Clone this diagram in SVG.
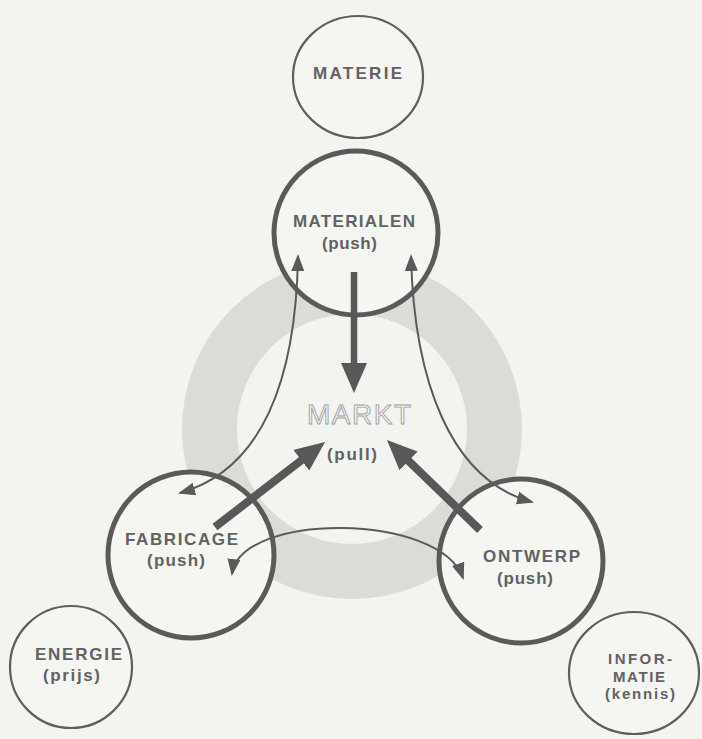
<svg xmlns="http://www.w3.org/2000/svg" width="702" height="739" viewBox="0 0 702 739">
<style>
.bg{fill:#f3f3f0}
.thick{fill:#f5f5f2;stroke:#5a5a5a;stroke-width:5}
.thin{fill:#f5f5f2;stroke:#5e5e5e;stroke-width:2.2}
.lbl{font-family:"Liberation Sans",Arial,sans-serif;font-weight:bold;font-size:17px;fill:#626262;text-anchor:middle}
.lbs{font-family:"Liberation Sans",Arial,sans-serif;font-weight:bold;font-size:15px;fill:#626262;text-anchor:middle}
.markt{font-family:"Liberation Sans",Arial,sans-serif;font-size:28px;fill:#f6f6f4;stroke:#a0a0a0;stroke-width:0.9;text-anchor:middle}
.big{fill:none;stroke:#585858;stroke-width:8}
.sm{fill:none;stroke:#5a5a5a;stroke-width:2}
</style>
<defs>
<marker id="bighead" markerUnits="userSpaceOnUse" markerWidth="30" markerHeight="26" refX="2" refY="13" orient="auto">
<path d="M0,0 L30,13 L0,26 z" fill="#585858"/>
</marker>
<marker id="smhead" markerUnits="userSpaceOnUse" markerWidth="17" markerHeight="13" refX="15" refY="6.5" orient="auto-start-reverse">
<path d="M0,0 L17,6.5 L0,13 z" fill="#5a5a5a"/>
</marker>
</defs>
<rect class="bg" x="0" y="0" width="702" height="739"/>
<g id="ring">
<circle cx="352" cy="429" r="142.5" fill="none" stroke="#dbdbd8" stroke-width="55"/>
</g>
<g id="materie">
<ellipse class="thin" cx="358" cy="77" rx="65" ry="61"/>
<text class="lbl" x="357.5" y="79" textLength="89" lengthAdjust="spacing">MATERIE</text>
</g>
<g id="materialen">
<circle class="thick" cx="356" cy="233" r="82"/>
<text class="lbl" x="354" y="227" textLength="122" lengthAdjust="spacing">MATERIALEN</text>
<text class="lbl" x="349.5" y="249" textLength="55" lengthAdjust="spacing">(push)</text>
</g>
<g id="markt">
<text class="markt" x="359" y="424" textLength="104" lengthAdjust="spacing">MARKT</text>
<text class="lbl" x="352" y="460" textLength="50" lengthAdjust="spacing">(pull)</text>
</g>
<g id="fabricage">
<circle class="thick" cx="191" cy="555" r="83"/>
<text class="lbl" x="181.5" y="545" textLength="113" lengthAdjust="spacing">FABRICAGE</text>
<text class="lbl" x="176" y="566" textLength="58" lengthAdjust="spacing">(push)</text>
</g>
<g id="ontwerp">
<circle class="thick" cx="521" cy="561" r="82"/>
<text class="lbl" x="531.5" y="562" textLength="97" lengthAdjust="spacing">ONTWERP</text>
<text class="lbl" x="525" y="584" textLength="56" lengthAdjust="spacing">(push)</text>
</g>
<g id="energie">
<circle class="thin" cx="71" cy="667" r="61"/>
<text class="lbl" x="78.5" y="660" textLength="87" lengthAdjust="spacing">ENERGIE</text>
<text class="lbl" x="71.5" y="681" textLength="57" lengthAdjust="spacing">(prijs)</text>
</g>
<g id="informatie">
<ellipse class="thin" cx="634" cy="673" rx="65" ry="61"/>
<text class="lbs" x="640" y="664" textLength="64" lengthAdjust="spacing">INFOR-</text>
<text class="lbs" x="639" y="681.5" textLength="52" lengthAdjust="spacing">MATIE</text>
<text class="lbs" x="640" y="699" textLength="70" lengthAdjust="spacing">(kennis)</text>
</g>
<g id="connectors">
<line class="big" style="stroke-width:6.5" x1="354" y1="272" x2="354" y2="365" marker-end="url(#bighead)"/>
<line class="big" x1="215" y1="527" x2="302.9" y2="459.1" marker-end="url(#bighead)"/>
<line class="big" x1="480" y1="530" x2="407.1" y2="459.5" marker-end="url(#bighead)"/>
<path class="sm" d="M298,256 C296,380 262,470 180,493" marker-start="url(#smhead)" marker-end="url(#smhead)"/>
<path class="sm" d="M411,256 C414,380 450,480 532,502" marker-start="url(#smhead)" marker-end="url(#smhead)"/>
<path class="sm" d="M232,574 C240,512 440,512 463,578" marker-start="url(#smhead)" marker-end="url(#smhead)"/>
</g>
</svg>
